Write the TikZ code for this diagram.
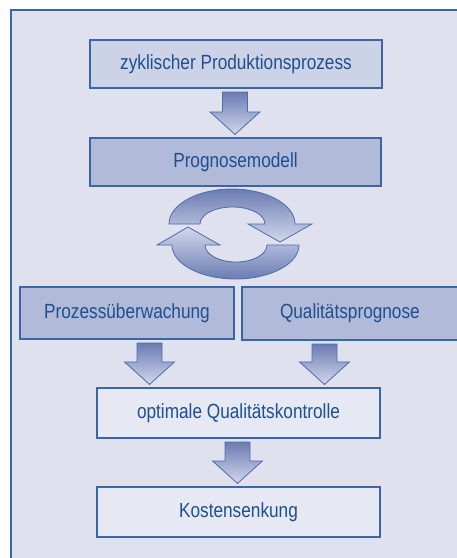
\documentclass[tikz,border=0pt]{standalone}
\usepackage{fontspec}
\setmainfont{Liberation Sans}[FakeStretch=0.84]
\usetikzlibrary{calc}
\definecolor{bgcol}{HTML}{DFE1EF}
\definecolor{framecol}{HTML}{3A66A6}
\definecolor{fillA}{HTML}{CDD3E7}
\definecolor{fillB}{HTML}{B1BAD9}
\definecolor{fillC}{HTML}{E6E8F3}
\definecolor{edgecol}{HTML}{3A65A6}
\definecolor{txtcol}{HTML}{1E4F8F}
\definecolor{shdark}{HTML}{6B7CB2}
\definecolor{shlight}{HTML}{D2D7EC}
\definecolor{arrowedge}{HTML}{4D6CA8}
\newcommand\flowarrow[3]{%
  \shade[arrowshade] let \p1=(#1), \p2=(#2.south), \p3=(#3.north) in
   (\x1-12.5pt,\y2-3.5pt) -- (\x1+12.5pt,\y2-3.5pt) -- (\x1+12.5pt,\y3+25.5pt)
   -- (\x1+25pt,\y3+25.5pt) -- (\x1,\y3+3pt) -- (\x1-25pt,\y3+25.5pt)
   -- (\x1-12.5pt,\y3+25.5pt) -- cycle;}
\begin{document}
\begin{tikzpicture}[x=1pt,y=1pt,
  box/.style={draw=edgecol, line width=1.1pt, text=txtcol, inner sep=0pt,
    font=\fontsize{20.5}{23}\selectfont},
  arrowshade/.style={top color=shdark, bottom color=shlight, draw=arrowedge, line width=0.8pt},
  ringup/.style={top color=shdark, bottom color=shlight, draw=arrowedge, line width=0.8pt},
  ringdown/.style={top color=shlight, bottom color=shdark, draw=arrowedge, line width=0.8pt}]
\useasboundingbox (0,0) rectangle (457,-558);
\begin{scope}
\clip (0,0) rectangle (457,-558);
\fill[bgcol] (11,-10) rectangle (470,-570);
\draw[framecol, line width=1.3pt] (11,-570) -- (11,-10) -- (470,-10);

\node[box, fill=fillA, minimum width=292pt, minimum height=48pt] (b1) at (236,-64) {zyklischer Produktionsprozess};
\node[box, fill=fillB, minimum width=291pt, minimum height=48pt] (b2) at (235.5,-162) {Prognosemodell};
\node[box, fill=fillB, minimum width=214pt, minimum height=52pt] (b3) at (127,-313) {Prozessüberwachung};
\node[box, fill=fillB, minimum width=234pt, minimum height=53pt, text width=214pt, align=left] (b4) at (359,-313.5) {\hspace{28pt}Qualitätsprognose};
\node[box, fill=fillC, minimum width=283pt, minimum height=50pt] (b5) at (238.5,-413) {optimale Qualitätskontrolle};
\node[box, fill=fillC, minimum width=283pt, minimum height=50pt] (b6) at (238.5,-512) {Kostensenkung};

\coordinate (x1) at (235,0);
\coordinate (x3) at (149.5,0);
\coordinate (x4) at (324.5,0);
\coordinate (x5) at (237.5,0);
\flowarrow{x1}{b1}{b2}
\flowarrow{x3}{b3}{b5}
\flowarrow{x4}{b4}{b5}
\flowarrow{x5}{b5}{b6}

% cycle arrows
\shade[ringup] (169,-224) arc[start angle=180, end angle=0, x radius=63, y radius=35]
  -- (312,-224) -- (280,-242) -- (248,-224) -- (265,-224)
  arc[start angle=0, end angle=180, x radius=32.5, y radius=17] -- cycle;
\shade[ringdown] (299,-245) arc[start angle=0, end angle=-180, x radius=63.5, y radius=34]
  -- (157,-245) -- (188,-227) -- (220,-245) -- (205,-245)
  arc[start angle=180, end angle=360, x radius=31, y radius=17] -- cycle;
\end{scope}
\end{tikzpicture}
\end{document}
